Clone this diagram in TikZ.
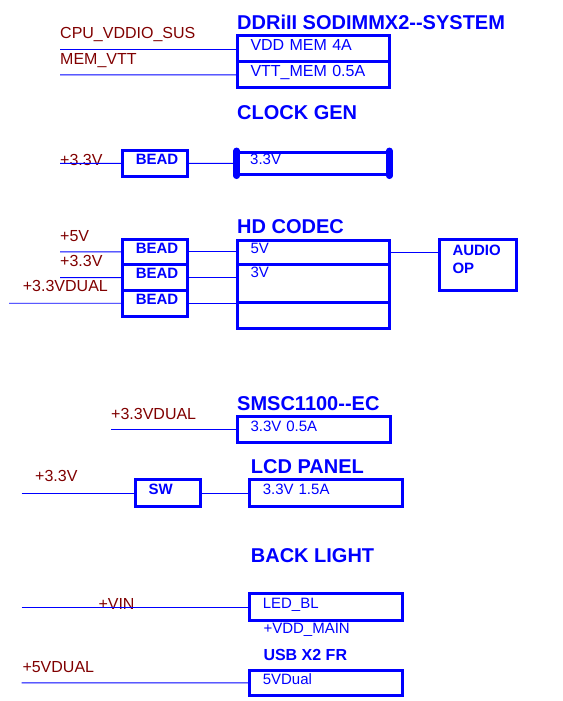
\documentclass[tikz,border=0pt]{standalone}
\usepackage{fontspec}
\setmainfont{Liberation Sans}
\usepackage{tikz}
\usetikzlibrary{positioning}
\definecolor{schblue}{RGB}{0,0,255}
\definecolor{netred}{RGB}{128,0,0}

\begin{document}
\begin{tikzpicture}[
    x=1pt, y=-1pt,
    box/.style={draw=schblue, line width=3pt, inner xsep=13.5pt, inner ysep=0pt, outer sep=0pt, align=left, text=schblue, font=\fontsize{15}{18}\selectfont, text height=10pt, text depth=7.2pt, anchor=north west},
    part/.style={box, font=\fontsize{15}{18}\selectfont\bfseries},
    wire/.style={schblue, line width=0.9pt},
    endbar/.style={schblue, line width=6.5pt, line cap=round},
    net/.style={text=netred, font=\fontsize{16}{19}\selectfont, anchor=base west, inner sep=0pt},
    title/.style={text=schblue, font=\fontsize{20}{24}\selectfont\bfseries, anchor=base west, inner sep=0pt}
]
    \useasboundingbox (0,0) rectangle (562,701);

    % DDR
    \node[title] (ddrt) at (237,30) {DDRiII SODIMMX2-{}-SYSTEM};
    \node[box, text width=125.3pt, minimum height=26pt, font=\fontsize{16}{19}\selectfont] (vddmem) at (237,36) {VDD MEM 4A};
    \node[box, text width=125.3pt, minimum height=25.7pt, font=\fontsize{16}{19}\selectfont, below=0pt of vddmem] (vttmem) {VTT\_MEM 0.5A};
    \node[net] (cpul) at (60,39) {CPU\_VDDIO\_SUS};
    \node[net] (vttl) at (60,64) {MEM\_VTT};
    \coordinate (cpuin) at (60,49);
    \coordinate (vttin) at (60,74.85);
    \draw[wire] (cpuin) -- (vddmem.west);
    \draw[wire] (vttin) -- (vttmem.west);

    % clock gen
    \node[title] (clkt) at (237,119) {CLOCK GEN};
    \node[part, text width=38.4pt, minimum height=26.7pt] (bead0) at (122.3,150) {BEAD};
    \node[box, text width=125.6pt, minimum height=22pt] (clkgen) at (236.7,152.3) {3.3V};
    \node[net] (clkl) at (60,165.7) {+3.3V};
    \coordinate (clkin) at (60,163.35);
    \draw[wire] (clkin) -- (bead0.west);
    \draw[wire] (bead0.east) -- (clkgen.west);
    \draw[endbar] ([yshift=1.5pt]clkgen.north west) -- ([yshift=-1.5pt]clkgen.south west);
    \draw[endbar] ([yshift=1.5pt]clkgen.north east) -- ([yshift=-1.5pt]clkgen.south east);

    % HD codec
    \node[title] (hdt) at (237,233.3) {HD CODEC};
    \node[part, text width=38.4pt, minimum height=25.7pt] (bead1) at (122.3,239) {BEAD};
    \node[part, text width=38.4pt, minimum height=25.7pt, below=0pt of bead1] (bead2) {BEAD};
    \node[part, text width=38.4pt, minimum height=25.7pt, below=0pt of bead2] (bead3) {BEAD};
    \node[box, text width=125.3pt, minimum height=24pt] (c5v) at (237,240) {5V};
    \node[box, text width=125.3pt, minimum height=38.7pt, text depth=22.6pt, below=0pt of c5v] (c3v) {3V};
    \node[box, text width=125.3pt, minimum height=25.6pt, below=0pt of c3v] (cx) {};
    \node[part, text width=50.7pt, minimum height=51pt, text depth=29pt] (audio) at (439,239) {AUDIO\\OP};
    \node[net] (v5l) at (60,241.7) {+5V};
    \node[net] (v33l) at (60,266.7) {+3.3V};
    \node[net] (dual1l) at (22.7,291.7) {+3.3VDUAL};
    \coordinate (in5) at (60,251.85);
    \coordinate (in33) at (60,277.55);
    \coordinate (dualin1) at (9,303.25);
    \draw[wire] (in5) -- (bead1.west);
    \draw[wire] (in33) -- (bead2.west);
    \draw[wire] (dualin1) -- (bead3.west);
    \draw[wire] (bead1.east) -- (bead1.east -| c5v.west);
    \draw[wire] (bead2.east) -- (bead2.east -| c3v.west);
    \draw[wire] (bead3.east) -- (bead3.east -| cx.west);
    \draw[wire] (c5v.east) -- (c5v.east -| audio.west);

    % SMSC
    \node[title] (smsct) at (237,410) {SMSC1100-{}-EC};
    \node[box, text width=126pt, minimum height=26pt] (smsc) at (237,416.7) {3.3V 0.5A};
    \node[net] (dual2l) at (111,419.3) {+3.3VDUAL};
    \coordinate (dualin2) at (111,429.7);
    \draw[wire] (dualin2) -- (smsc.west);

    % LCD
    \node[title] (lcdt) at (250.7,473.3) {LCD PANEL};
    \node[part, text width=38pt, minimum height=27.4pt] (sw) at (135,479.3) {SW};
    \node[box, text width=126.4pt, minimum height=27.4pt] (lcd) at (249.3,479.3) {3.3V 1.5A};
    \node[net] (lcdl) at (35,481.7) {+3.3V};
    \coordinate (lcdin) at (21.7,493);
    \draw[wire] (lcdin) -- (sw.west);
    \draw[wire] (sw.east) -- (lcd.west);

    % back light, usb
    \node[title] (blt) at (250.7,562.3) {BACK LIGHT};
    \node[box, text width=126.4pt, minimum height=27.4pt] (ledbl) at (249.3,593.3) {LED\_BL};
    \node[text=schblue, font=\fontsize{15}{18}\selectfont, anchor=base west, inner sep=0pt] (vddmain) at (263.3,633.3) {+VDD\_MAIN};
    \node[text=schblue, font=\fontsize{16}{19}\selectfont\bfseries, anchor=base west, inner sep=0pt] (usbt) at (263.3,660) {USB X2 FR};
    \node[box, text width=126.4pt, minimum height=25.7pt] (usb) at (249.3,670) {5VDual};
    \node[net] (vinl) at (98.3,609) {+VIN};
    \node[net] (dual5l) at (22.3,672.7) {+5VDUAL};
    \coordinate (vin) at (21.7,607);
    \coordinate (dual5in) at (21.7,682.85);
    \draw[wire] (vin) -- (ledbl.west);
    \draw[wire] (dual5in) -- (usb.west);
\end{tikzpicture}
\end{document}
